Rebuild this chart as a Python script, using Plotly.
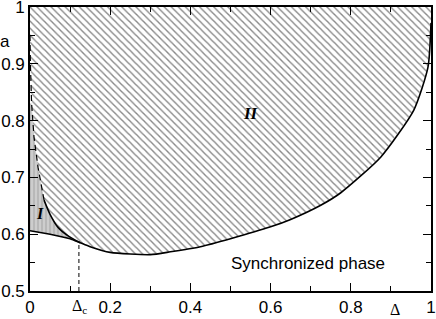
import plotly.graph_objects as go

# Lower boundary (synchronization threshold)
lower_x = [0.0, 0.05, 0.1, 0.125, 0.15, 0.2, 0.3, 0.35, 0.425, 0.5, 0.6, 0.65, 0.725, 0.775, 0.875, 0.9575, 0.9925, 1.0]
lower_y = [0.606, 0.600, 0.592, 0.585, 0.578, 0.568, 0.564, 0.569, 0.578, 0.592, 0.613, 0.626, 0.651, 0.673, 0.736, 0.819, 0.894, 0.972]

# Boundary between region I and region II
bound_x = [0.125, 0.095, 0.07, 0.05, 0.035, 0.02, 0.01, 0.004, 0.001, 0.0]
bound_y = [0.585, 0.597, 0.612, 0.635, 0.66, 0.718, 0.771, 0.83, 0.9, 0.95]

delta_c = 0.122
x_ticks = [0, 0.2, 0.4, 0.6, 0.8, 1.0]
x_ticklabels = ["0", "0.2", "0.4", "0.6", "0.8", "1"]
y_ticks = [0.5, 0.6, 0.7, 0.8, 0.9, 1.0]
y_ticklabels = ["0.5", "0.6", "0.7", "0.8", "0.9", "1"]
x_minor = [0.1, 0.3, 0.5, 0.7, 0.9]
y_minor = [0.55, 0.65, 0.75, 0.85, 0.95]

split = lower_x.index(0.125)

# Region II polygon
r2_x = lower_x[split:] + [1.0, 0.0] + bound_x[::-1]
r2_y = lower_y[split:] + [1.0, 1.0] + bound_y[::-1]
# Region I polygon
r1_x = lower_x[:split + 1] + bound_x[1:8] + [0.0]
r1_y = lower_y[:split + 1] + bound_y[1:8] + [bound_y[7]]

fig = go.Figure()
fig.add_trace(go.Scatter(x=r2_x, y=r2_y, mode="none", fill="toself", fillcolor="white",
                         fillpattern=dict(shape="\\", size=5, solidity=0.28, fgcolor="#111111", bgcolor="white"),
                         showlegend=False, hoverinfo="skip"))
fig.add_trace(go.Scatter(x=r1_x, y=r1_y, mode="none", fill="toself", fillcolor="#b8b8b8",
                         fillpattern=dict(shape="|", size=4, solidity=0.3, fgcolor="white", bgcolor="#b8b8b8"),
                         showlegend=False, hoverinfo="skip"))
fig.add_trace(go.Scatter(x=lower_x, y=lower_y, mode="lines", line=dict(color="black", width=1.6, shape="spline", smoothing=0.6),
                         showlegend=False))
fig.add_trace(go.Scatter(x=bound_x[:5], y=bound_y[:5], mode="lines", line=dict(color="black", width=1.6, shape="spline", smoothing=0.6),
                         showlegend=False))
fig.add_trace(go.Scatter(x=bound_x[4:], y=bound_y[4:], mode="lines", line=dict(color="black", width=1.2, dash="6px,4px"),
                         showlegend=False))
fig.add_trace(go.Scatter(x=[delta_c, delta_c], y=[0.5, 0.586], mode="lines", line=dict(color="black", width=1, dash="4px,3px"),
                         showlegend=False))

axis_common = dict(showgrid=False, zeroline=False, showline=True, linecolor="black", linewidth=1.6,
                   mirror="ticks", ticks="inside", ticklen=8, tickwidth=1.2, tickcolor="black",
                   automargin=False, ticklabeloverflow="allow",
                   tickfont=dict(family="Liberation Sans, Arial", size=17, color="black"))

fig.update_xaxes(range=[0, 1], tickmode="array", tickvals=x_ticks, ticktext=x_ticklabels,
                 minor=dict(tickvals=x_minor, ticks="inside", ticklen=5, tickwidth=1.2, tickcolor="black"),
                 **axis_common)
fig.update_yaxes(range=[0.5, 1], tickmode="array", tickvals=y_ticks, ticktext=y_ticklabels,
                 minor=dict(tickvals=y_minor, ticks="inside", ticklen=5, tickwidth=1.2, tickcolor="black"),
                 **axis_common)

anch = dict(showarrow=False, xanchor="center", yanchor="middle")
fig.add_annotation(x=-0.062, y=0.877, text="a", xref="paper", yref="paper",
                   font=dict(family="Liberation Sans, Arial", size=17, color="black"), **anch)
fig.add_annotation(x=0.910, y=-0.064, text="Δ", xref="paper", yref="paper",
                   font=dict(family="Liberation Serif, serif", size=16, color="black"), **anch)
fig.add_annotation(x=0.124, y=-0.055, text="Δ<sub>c</sub>", xref="paper", yref="paper",
                   font=dict(family="Liberation Serif, serif", size=16, color="black"), **anch)
fig.add_annotation(x=0.025, y=0.637, text="<b><i>I</i></b>", xref="x", yref="y",
                   font=dict(family="Liberation Serif, serif", size=16, color="black"), **anch)
fig.add_annotation(x=0.55, y=0.813, text="<b><i>II</i></b>", xref="x", yref="y",
                   font=dict(family="Liberation Serif, serif", size=17, color="black"), **anch)
fig.add_annotation(x=0.694, y=0.549, text="Synchronized phase", xref="x", yref="y",
                   font=dict(family="Liberation Sans, Arial", size=17, color="black"), **anch)

fig.update_layout(width=436, height=319, margin=dict(l=30, r=5, t=7, b=28, autoexpand=False),
                  plot_bgcolor="white", paper_bgcolor="white")

fig.write_html("out.html", config={"displayModeBar": False},
               post_script="document.body.style.margin='0';document.body.style.padding='0';")
